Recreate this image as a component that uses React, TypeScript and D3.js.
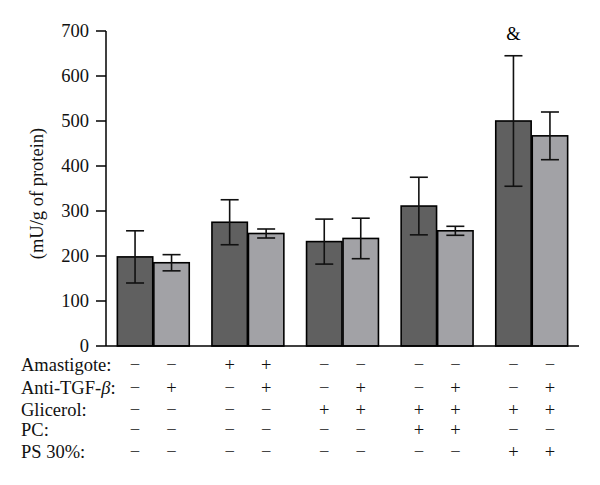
import React from "react";
import * as d3 from "d3";

const groups = ["G1", "G2", "G3", "G4", "G5"];
const series = ["dark", "light"];
const darkValues = [198, 275, 232, 311, 500];
const darkErrors = [58, 50, 50, 64, 145];
const lightValues = [185, 250, 239, 256, 467];
const lightErrors = [18, 10, 45, 10, 53];
const yTicks = [0, 100, 200, 300, 400, 500, 600, 700];
const rowLabels = ["Amastigote:", "Anti-TGF-", "Glicerol:", "PC:", "PS 30%:"];
// signs per row, per bar (10 bars)
const signs = [
  ["−", "−", "+", "+", "−", "−", "−", "−", "−", "−"],
  ["−", "+", "−", "+", "−", "+", "−", "+", "−", "+"],
  ["−", "−", "−", "−", "+", "+", "+", "+", "+", "+"],
  ["−", "−", "−", "−", "−", "−", "+", "+", "−", "−"],
  ["−", "−", "−", "−", "−", "−", "−", "−", "+", "+"],
];
const annotations = ["", "", "", "", "&"];
const colors = ["#606060", "#a2a2a6"];

export default function App() {
  const W = 600, H = 485;
  const x0 = 106, x1 = 579, yTop = 31, yBot = 346;
  const x = d3.scaleBand<string>().domain(groups).range([x0, x1]).paddingInner(0.24).paddingOuter(0.12);
  const xs = d3.scaleBand<string>().domain(series).range([0, x.bandwidth()]).paddingInner(0.03);
  const y = d3.scaleLinear().domain([0, 700]).range([yBot, yTop]);
  const font = "'Liberation Serif', 'Times New Roman', serif";
  const fs = 18.5;
  const rowY = [365, 388, 410, 430, 452];
  const bars: any[] = [];
  groups.forEach((g, i) => {
    [darkValues, lightValues].forEach((vals, s) => {
      const errs = s === 0 ? darkErrors : lightErrors;
      bars.push({ g, i, s, v: vals[i], e: errs[i] });
    });
  });
  return (
    <div style={{ position: "absolute", left: 0, top: 0, opacity: 0.999 }}>
      <svg width={W} height={H} style={{ display: "block", background: "#fff" }}>
        {bars.map((b, k) => {
          const bx = (x(b.g) as number) + (xs(series[b.s]) as number);
          const bw = xs.bandwidth();
          const cx = bx + bw / 2;
          return (
            <g key={k}>
              <rect x={bx} y={y(b.v)} width={bw} height={yBot - y(b.v)} fill={colors[b.s]} stroke="#000" strokeWidth={1.6} />
              <line x1={cx} x2={cx} y1={y(b.v + b.e)} y2={y(b.v - b.e)} stroke="#111" strokeWidth={1.6} />
              <line x1={cx - 9} x2={cx + 9} y1={y(b.v + b.e)} y2={y(b.v + b.e)} stroke="#111" strokeWidth={1.6} />
              <line x1={cx - 9} x2={cx + 9} y1={y(b.v - b.e)} y2={y(b.v - b.e)} stroke="#111" strokeWidth={1.6} />
              {signs.map((row, r) => (
                <text key={r} x={cx} y={rowY[r] + 6} textAnchor="middle" fontFamily={font} fontSize={fs} fill="#111">
                  {row[k]}
                </text>
              ))}
            </g>
          );
        })}
        {groups.map((g, i) =>
          annotations[i] ? (
            <text key={g} x={(x(g) as number) + (xs("dark") as number) + xs.bandwidth() / 2} y={40} textAnchor="middle" fontFamily={font} fontSize={fs}>
              {annotations[i]}
            </text>
          ) : null
        )}
        <line x1={x0} x2={x1} y1={yBot} y2={yBot} stroke="#000" strokeWidth={1.5} />
        <line x1={x0} x2={x0} y1={yTop} y2={yBot} stroke="#000" strokeWidth={1.5} />
        {yTicks.map((t) => (
          <g key={t}>
            <line x1={x0 - 10} x2={x0} y1={y(t)} y2={y(t)} stroke="#000" strokeWidth={1.5} />
            <text x={89} y={y(t) + 6} textAnchor="end" fontFamily={font} fontSize={fs} fill="#111">
              {t}
            </text>
          </g>
        ))}
        <text transform={`translate(43,${(yTop + yBot) / 2 + 5}) rotate(-90)`} textAnchor="middle" fontFamily={font} fontSize={fs} fill="#111">
          (mU/g of protein)
        </text>
        {rowLabels.map((l, r) => (
          <text key={l} x={21} y={rowY[r] + 6} fontFamily={font} fontSize={fs} fill="#111">
            {l}
            {r === 1 ? <tspan fontStyle="italic">β</tspan> : null}
            {r === 1 ? ":" : null}
          </text>
        ))}
      </svg>
    </div>
  );
}
